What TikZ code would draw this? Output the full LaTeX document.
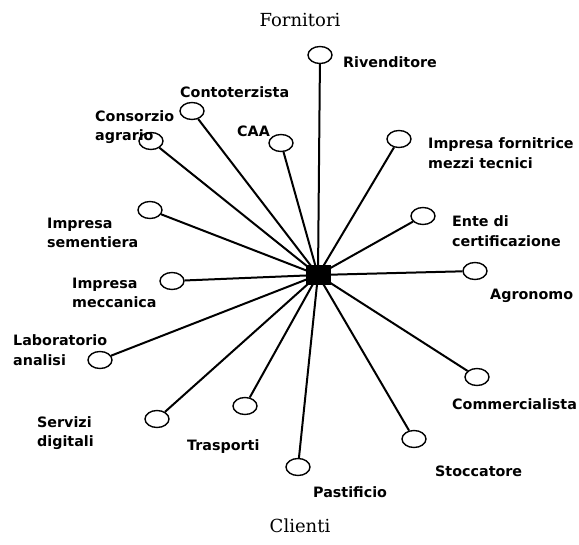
\documentclass[tikz,border=0pt]{standalone}
\usepackage{fontspec}
\usetikzlibrary{shapes.geometric}
\setmainfont{DejaVu Sans}
\newfontfamily\titlefont{DejaVu Serif}
\begin{document}
\begin{tikzpicture}[x=1pt,y=-1pt,
  leaf/.style={draw,line width=1.4pt,ellipse,minimum width=24pt,minimum height=17pt,inner sep=0pt},
  lbl/.style={anchor=west,align=left,inner sep=0pt,font=\bfseries\fontsize{14.3}{19.5}\selectfont},
  ttl/.style={inner sep=0pt,font=\titlefont\fontsize{18}{20}\selectfont},
  spoke/.style={line width=2pt}]
\useasboundingbox (0,0) rectangle (579,545);
\node[fill=black,minimum width=25pt,minimum height=20pt,inner sep=0pt] (c) at (318,275) {};
\node[ttl] (t1) at (300,20) {Fornitori};
\node[ttl] (t2) at (300,526) {Clienti};
% leaves
\node[leaf] (riv) at (320,55) {};
\node[leaf] (con) at (192,111) {};
\node[leaf] (cag) at (151,141) {};
\node[leaf] (caa) at (281,143) {};
\node[leaf] (imf) at (399,139) {};
\node[leaf] (sem) at (150,210) {};
\node[leaf] (ent) at (423,216) {};
\node[leaf] (agr) at (475,271) {};
\node[leaf] (mec) at (172,281) {};
\node[leaf] (lab) at (100,360) {};
\node[leaf] (com) at (477,377) {};
\node[leaf] (ser) at (157,419) {};
\node[leaf] (tra) at (245,406) {};
\node[leaf] (sto) at (414,439) {};
\node[leaf] (pas) at (298,467) {};
% spokes
\foreach \n in {riv,con,cag,caa,imf,sem,ent,agr,mec,lab,com,ser,tra,sto,pas}
  \draw[spoke] (\n) -- (c.center);
% labels
\node[lbl] (lriv) at (343,62) {Rivenditore};
\node[lbl] (lcon) at (180,92) {Contoterzista};
\node[lbl] (lcag) at (95,127) {Consorzio\\agrario};
\node[lbl] (lcaa) at (237,131) {CAA};
\node[lbl] (limf) at (428,153) {Impresa fornitrice\\mezzi tecnici};
\node[lbl] (lsem) at (47,233) {Impresa\\sementiera};
\node[lbl] (lent) at (452,231) {Ente di\\certificazione};
\node[lbl] (lagr) at (490,296) {Agronomo};
\node[lbl] (lmec) at (72,293) {Impresa\\meccanica};
\node[lbl] (llab) at (13,350) {Laboratorio\\analisi};
\node[lbl] (lcom) at (452,404) {Commercialista};
\node[lbl] (lser) at (37,433) {Servizi\\digitali};
\node[lbl] (ltra) at (187,447) {Trasporti};
\node[lbl] (lsto) at (435,471) {Stoccatore};
\node[lbl] (lpas) at (313,492) {Pastificio};
\end{tikzpicture}
\end{document}
